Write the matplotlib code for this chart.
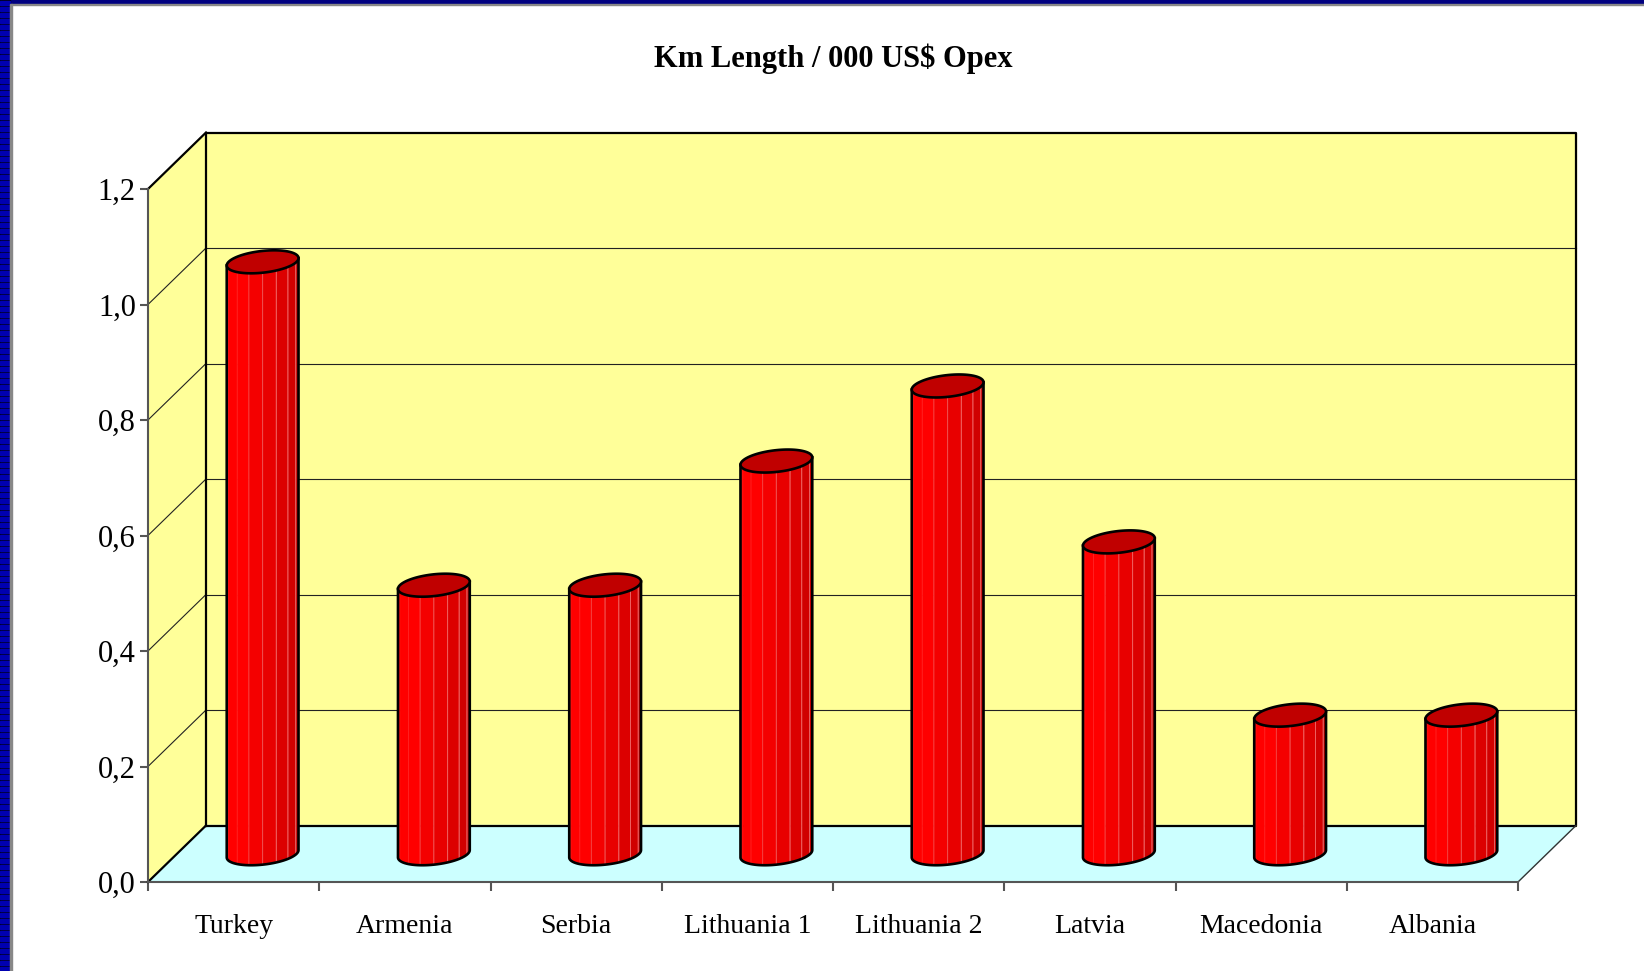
import matplotlib.pyplot as plt
import numpy as np
from matplotlib.patches import Rectangle

# data
categories = ['Turkey', 'Armenia', 'Serbia', 'Lithuania 1', 'Lithuania 2',
              'Latvia', 'Macedonia', 'Albania']
values = [1.025, 0.465, 0.465, 0.68, 0.81, 0.54, 0.24, 0.24]
y_ticks = [0.0, 0.2, 0.4, 0.6, 0.8, 1.0, 1.2]
y_labels = ['0,0', '0,2', '0,4', '0,6', '0,8', '1,0', '1,2']
title = 'Km Length / 000 US$ Opex'

plt.rcParams['font.family'] = ['Liberation Serif', 'DejaVu Serif']

W, H = 1644, 971
fig = plt.figure(figsize=(W / 100, H / 100), dpi=100)
fig.patch.set_facecolor('white')

# front plane of the 3d box
x0, x1, y0, y1 = 148, 1518, 882, 189
ax = fig.add_axes([x0 / W, 1 - y0 / H, (x1 - x0) / W, (y0 - y1) / H])
n = len(categories)
ymax = y_ticks[-1]
ax.set_xlim(0, n)
ax.set_ylim(0, ymax)
ax.patch.set_visible(False)

# depth offset, converted to data units
px_x = (x1 - x0) / n
px_y = (y0 - y1) / ymax
dx = 58 / px_x
dy = 56.5 / px_y

wall = '#FFFF99'
floor = '#CCFFFF'

# walls and floor
ax.fill([dx, n + dx, n + dx, dx], [dy, dy, ymax + dy, ymax + dy],
        color=wall, zorder=1, clip_on=False)
ax.fill([0, dx, dx, 0], [0, dy, ymax + dy, ymax], color=wall, zorder=1, clip_on=False)
ax.fill([0, n, n + dx, dx], [0, 0, dy, dy], color=floor, zorder=1, clip_on=False)

# gridlines on back wall and side wall
for v in y_ticks[1:-1]:
    ax.plot([dx, n + dx], [v + dy, v + dy], color='#222222', lw=0.8, zorder=2, clip_on=False)
    ax.plot([0, dx], [v, v + dy], color='#222222', lw=0.8, zorder=2, clip_on=False)

# box edges
edge = dict(color='black', lw=1.6, zorder=2.2, clip_on=False, solid_capstyle='projecting')
ax.plot([dx, n + dx, n + dx, dx, dx], [dy, dy, ymax + dy, ymax + dy, dy], **edge)
ax.plot([0, dx], [ymax, ymax + dy], **edge)
ax.plot([0, dx], [0, dy], **edge)
ax.plot([n, n + dx], [0, dy], color='#333333', lw=1.0, zorder=2.2, clip_on=False)

# cylinders
r = 34 / px_x
hx = 11.5 / px_x
hy = 11.5 / px_y
t0 = np.arctan2(hx, r)
facet_colors = ['#FF1010', '#FF0000', '#FF0000', '#F40000', '#E80000',
                '#DC0000', '#D00000', '#C80000']
facet_edges = ['#FF1010', '#FF0000', '#FF2020', '#F44040', '#F05050',
               '#F06060', '#EE6060', '#E86060']
nf = len(facet_colors)
for i, v in enumerate(values):
    cx = i + 0.5 + dx / 2
    cb = dy / 2
    ct = v + dy / 2
    z = 3 + i * 0.01
    tt = np.linspace(t0 + np.pi, t0 + 2 * np.pi, nf + 1)
    for k in range(nf):
        ta, tb = tt[k], tt[k + 1]
        xa = cx + r * np.cos(ta) + hx * np.sin(ta)
        xb = cx + r * np.cos(tb) + hx * np.sin(tb)
        ax.fill([xa, xb, xb, xa],
                [cb + hy * np.sin(ta), cb + hy * np.sin(tb),
                 ct + hy * np.sin(tb), ct + hy * np.sin(ta)],
                facecolor=facet_colors[k], edgecolor=facet_edges[k], lw=0.7,
                zorder=z, clip_on=False)
    # outline: left side, front bottom curve, right side
    tf = np.linspace(t0 + np.pi, t0 + 2 * np.pi, 80)
    xf = cx + r * np.cos(tf) + hx * np.sin(tf)
    yf = cb + hy * np.sin(tf)
    ox = np.concatenate([[xf[0]], xf, [xf[-1]]])
    oy = np.concatenate([[ct + hy * np.sin(tf[0])], yf, [ct + hy * np.sin(tf[-1])]])
    ax.plot(ox, oy, color='black', lw=1.9, zorder=z + 0.001, clip_on=False)
    # top cap
    ta = np.linspace(0, 2 * np.pi, 120)
    ax.fill(cx + r * np.cos(ta) + hx * np.sin(ta), ct + hy * np.sin(ta),
            facecolor='#C00000', edgecolor='black', lw=1.9,
            zorder=z + 0.002, clip_on=False)

# axes, ticks and labels
for s in ['top', 'right']:
    ax.spines[s].set_visible(False)
for s in ['left', 'bottom']:
    ax.spines[s].set_color('#555555')
    ax.spines[s].set_linewidth(1.5)
    ax.spines[s].set_zorder(2.5)

ax.set_yticks(y_ticks)
ax.set_yticklabels(y_labels)
ax.tick_params(axis='y', length=5.8, width=1.5, color='#555555', pad=3, labelsize=22)

ax.set_xticks(np.arange(n + 1))
ax.set_xticklabels([])
ax.set_xticks(np.arange(n) + 0.5, minor=True)
ax.set_xticklabels(categories, minor=True)
ax.tick_params(axis='x', which='major', length=6.5, width=1.5, color='#555555')
ax.tick_params(axis='x', which='minor', length=0, pad=23, labelsize=20)

fig.text(833 / W, 1 - 59 / H, title, ha='center', va='center',
         fontsize=22, fontweight='bold')

# slide frame: navy band on top, striped band on the left
fig.patches.append(Rectangle((0, 1 - 4 / H), 1, 4 / H, transform=fig.transFigure,
                             color='#000080', zorder=10))
fig.patches.append(Rectangle((0, 1 - 5.5 / H), 1, 1.5 / H, transform=fig.transFigure,
                             color='#888888', zorder=10))
fig.patches.append(Rectangle((0, 0), 10 / W, 1, transform=fig.transFigure,
                             color='#000010', zorder=10))
for yy in range(0, H, 6):
    fig.patches.append(Rectangle((0, yy / H), 10 / W, 4 / H, transform=fig.transFigure,
                                 color='#0000B0', zorder=11))
fig.patches.append(Rectangle((10 / W, 0), 1.5 / W, 1 - 4 / H, transform=fig.transFigure,
                             color='#888888', zorder=11))

fig.savefig('out.png', dpi=100)
